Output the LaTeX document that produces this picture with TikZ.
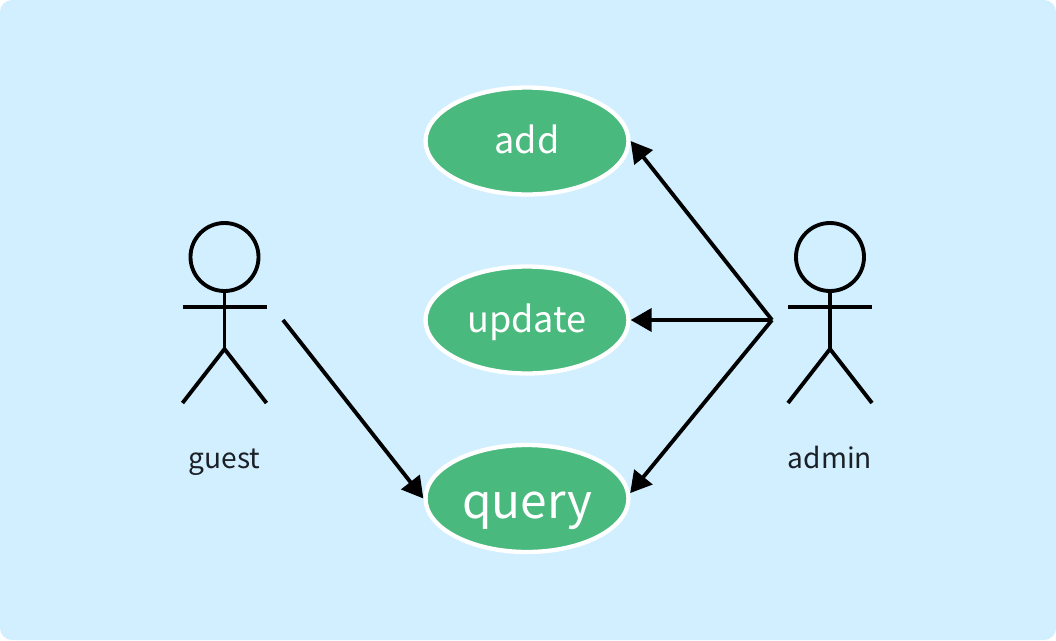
\documentclass[tikz,border=0pt]{standalone}
\usepackage{fontspec}
\setmainfont{Noto Sans CJK SC}
\usetikzlibrary{arrows.meta,shapes.geometric}

\definecolor{panelblue}{HTML}{D1EFFF}
\definecolor{usecasegreen}{HTML}{4AB97E}
\definecolor{labelink}{HTML}{1A2026}

\begin{document}
\begin{tikzpicture}[
x=0.02cm, y=-0.02cm,
usecase/.style={ellipse, draw=white, line width=2.45pt, fill=usecasegreen, text=white,
    minimum width=4.06cm, minimum height=2.14cm, inner sep=0pt,
    text height=0.54cm, text depth=0.06cm, font=\fontsize{20.5}{24}\selectfont},
figure/.style={black, line width=2.2pt},
link/.style={black, line width=2.2pt, -{Triangle[length=0.42cm, width=0.46cm]}},
actorlabel/.style={anchor=base, text=labelink, font=\fontsize{16}{20}\selectfont}
]

    % Panel
    \useasboundingbox (0,0) rectangle (1056,640);
    \fill[white] (0,0) rectangle (1056,640);
    \fill[panelblue, rounded corners=0.24cm] (0,0) rectangle (1056,640);

    % Use cases
    \node[usecase] (add) at (527,141) {add};
    \node[usecase] (update) at (527,320) {update};
    \node[usecase, text height=0.9cm, text depth=0.12cm, font=\fontsize{27.2}{32}\selectfont] (query) at (527,498.5) {query};

    % Stick figures
    \foreach \x/\who in {224.5/guest,830/admin} {
        \draw[figure] (\x,257) circle (34);
        \draw[figure] (\x,291) -- (\x,349);
        \draw[figure] (\x-42,307) -- (\x+42,307);
        \draw[figure] (\x-42,403) -- (\x,349) -- (\x+42,403);
        \node[actorlabel] (\who) at (\x,468.5) {\who};
    }

    % Connector ends beside the figures
    \coordinate (guestside) at (283,320);
    \coordinate (adminside) at (772,320);

    % Associations
    \draw[link] (guestside) -- (query.west);
    \draw[link] (adminside) -- (add.east);
    \draw[link] (adminside) -- (update.east);
    \draw[link] (adminside) -- (query.3);

\end{tikzpicture}
\end{document}
